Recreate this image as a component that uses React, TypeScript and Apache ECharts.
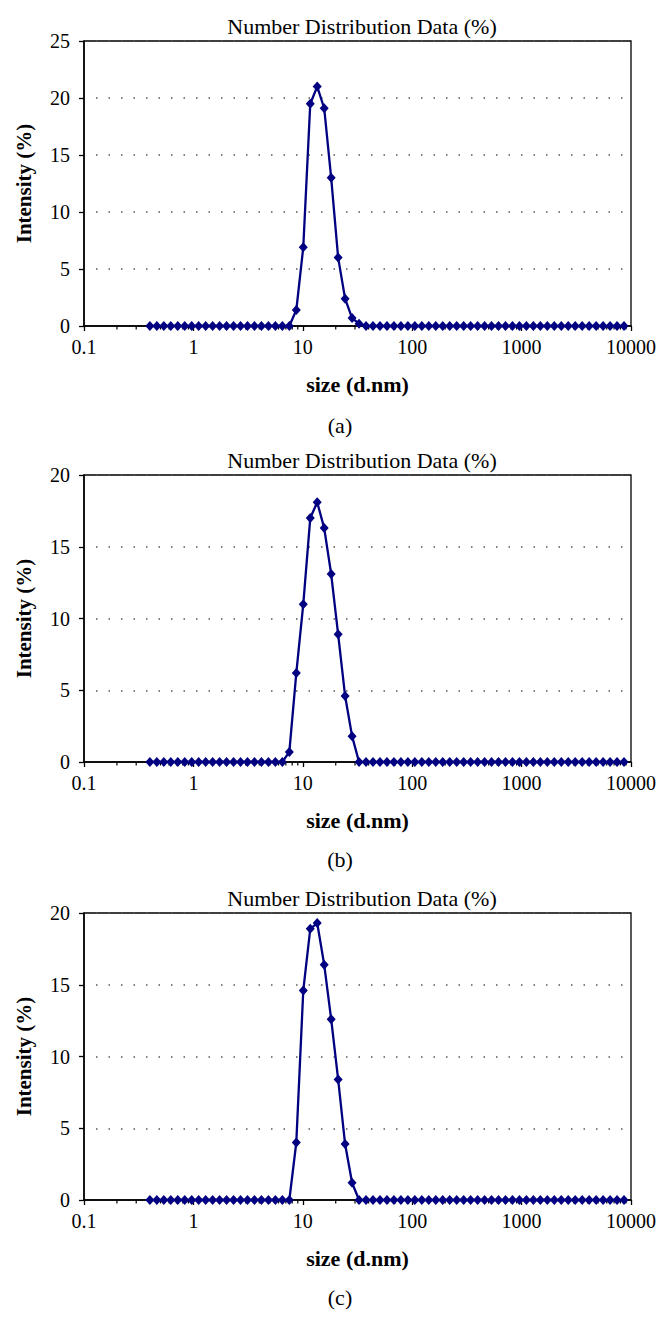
import React, { useEffect, useRef } from "react";
import * as echarts from "echarts";

// Zetasizer size classes (d.nm)
const sizes: number[] = [
  0.4, 0.4632, 0.5365, 0.6213, 0.7195, 0.8332, 0.9649, 1.117, 1.294, 1.499,
  1.736, 2.01, 2.328, 2.696, 3.122, 3.615, 4.187, 4.849, 5.615, 6.503,
  7.531, 8.721, 10.1, 11.7, 13.54, 15.69, 18.17, 21.04, 24.36, 28.21,
  32.67, 37.84, 43.82, 50.75, 58.77, 68.06, 78.82, 91.28, 105.7, 122.4,
  141.8, 164.2, 190.1, 220.2, 255.0, 295.3, 342.0, 396.1, 458.7, 531.2,
  615.1, 712.4, 825.0, 955.4, 1106, 1281, 1484, 1718, 1990, 2305,
  2669, 3091, 3580, 4145, 4801, 5560, 6439, 7456, 8635,
];

const intensityA: number[] = [
  0, 0, 0, 0, 0, 0, 0, 0, 0, 0,
  0, 0, 0, 0, 0, 0, 0, 0, 0, 0,
  0, 1.4, 6.9, 19.5, 21.0, 19.1, 13.0, 6.0, 2.4, 0.7,
  0.2, 0, 0, 0, 0, 0, 0, 0, 0, 0,
  0, 0, 0, 0, 0, 0, 0, 0, 0, 0,
  0, 0, 0, 0, 0, 0, 0, 0, 0, 0,
  0, 0, 0, 0, 0, 0, 0, 0, 0,
];

const intensityB: number[] = [
  0, 0, 0, 0, 0, 0, 0, 0, 0, 0,
  0, 0, 0, 0, 0, 0, 0, 0, 0, 0,
  0.7, 6.2, 11.0, 17.0, 18.1, 16.3, 13.1, 8.9, 4.6, 1.8,
  0, 0, 0, 0, 0, 0, 0, 0, 0, 0,
  0, 0, 0, 0, 0, 0, 0, 0, 0, 0,
  0, 0, 0, 0, 0, 0, 0, 0, 0, 0,
  0, 0, 0, 0, 0, 0, 0, 0, 0,
];

const intensityC: number[] = [
  0, 0, 0, 0, 0, 0, 0, 0, 0, 0,
  0, 0, 0, 0, 0, 0, 0, 0, 0, 0,
  0, 4.0, 14.6, 18.9, 19.3, 16.4, 12.6, 8.4, 3.9, 1.2,
  0, 0, 0, 0, 0, 0, 0, 0, 0, 0,
  0, 0, 0, 0, 0, 0, 0, 0, 0, 0,
  0, 0, 0, 0, 0, 0, 0, 0, 0, 0,
  0, 0, 0, 0, 0, 0, 0, 0, 0,
];

const yMaxes: number[] = [25, 20, 20];
const captions: string[] = ["(a)", "(b)", "(c)"];
const chartTitle = "Number Distribution Data (%)";
const xName = "size (d.nm)";
const yName = "Intensity (%)";
const xMin = 0.1;
const xMax = 10000;
const decades: number[] = [0.1, 1, 10, 100, 1000];
const minorMultipliers: number[] = [2, 3, 4, 5, 6, 7, 8, 9];

const FONT = "Liberation Serif";
const NAVY = "#000080";

export default function App() {
  const ref = useRef<HTMLDivElement>(null);

  useEffect(() => {
    if (!ref.current) return;
    const chart = echarts.init(ref.current, undefined, { renderer: "svg" });

    const panels = [
      { data: intensityA, top: 41, height: 285 },
      { data: intensityB, top: 475, height: 287 },
      { data: intensityC, top: 913, height: 287 },
    ];
    const offsets = [0, 434, 872];
    const minorTicks: number[][] = [];
    decades.forEach((d) => minorMultipliers.forEach((m) => minorTicks.push([+(d * m).toPrecision(6), 0])));

    const grids: any[] = [];
    const xAxes: any[] = [];
    const yAxes: any[] = [];
    const series: any[] = [];
    const titles: any[] = [];

    panels.forEach((p, i) => {
      grids.push({
        left: 84,
        width: 547,
        top: p.top,
        height: p.height,
        show: true,
        borderColor: "#000",
        borderWidth: 1.3,
        backgroundColor: "transparent",
      });
      xAxes.push({
        gridIndex: i,
        type: "log",
        logBase: 10,
        min: xMin,
        max: xMax,
        name: xName,
        nameLocation: "middle",
        nameGap: 47,
        nameTextStyle: { fontFamily: FONT, fontWeight: "bold", fontSize: 22, color: "#000" },
        axisLine: { show: true, onZero: false, lineStyle: { color: "#000", width: 1.5 } },
        axisTick: { show: true, inside: false, length: 5, lineStyle: { color: "#000", width: 1.3 } },
        axisLabel: {
          fontFamily: FONT,
          fontSize: 20,
          color: "#000",
          margin: 11,
          formatter: (v: number) => String(+(+v).toPrecision(6)),
        },
        splitLine: { show: false },
        minorTick: { show: false },
      });
      yAxes.push({
        gridIndex: i,
        type: "value",
        min: 0,
        max: yMaxes[i],
        interval: 5,
        name: yName,
        nameLocation: "middle",
        nameRotate: 90,
        nameGap: 50,
        nameTextStyle: { fontFamily: FONT, fontWeight: "bold", fontSize: 21, color: "#000" },
        axisLine: { show: true, lineStyle: { color: "#000", width: 1.5 } },
        axisTick: { show: true, inside: false, length: 5, lineStyle: { color: "#000", width: 1.3 } },
        axisLabel: { fontFamily: FONT, fontSize: 20, color: "#000", margin: 14 },
        splitLine: {
          show: true,
          lineStyle: { color: "#555", width: 1.5, type: [1.5, 11], dashOffset: -12 },
        },
      });
      series.push({
        type: "custom",
        xAxisIndex: i,
        yAxisIndex: i,
        silent: true,
        clip: false,
        z: 1,
        data: minorTicks,
        renderItem: (params: any, api: any) => {
          const pt = api.coord([api.value(0), 0]);
          return {
            type: "line",
            shape: { x1: pt[0], y1: pt[1], x2: pt[0], y2: pt[1] + 3.5 },
            style: { stroke: "#000", lineWidth: 1.2 },
          };
        },
      });
      series.push({
        type: "line",
        xAxisIndex: i,
        yAxisIndex: i,
        z: 3,
        data: sizes.map((s, k) => [s, p.data[k]]),
        symbol: "diamond",
        symbolSize: [9, 10],
        showSymbol: true,
        clip: false,
        lineStyle: { color: NAVY, width: 2.3 },
        itemStyle: { color: NAVY },
      });
      titles.push({
        text: chartTitle,
        left: 357,
        top: 10 + offsets[i],
        textAlign: "center",
        textStyle: { fontFamily: FONT, fontWeight: "normal", fontSize: 22, color: "#000" },
      });
      titles.push({
        text: captions[i],
        left: 335,
        top: 409 + offsets[i],
        textAlign: "center",
        textStyle: { fontFamily: FONT, fontWeight: "normal", fontSize: 22, color: "#000" },
      });
    });

    chart.setOption({
      animation: false,
      backgroundColor: "#fff",
      title: titles,
      grid: grids,
      xAxis: xAxes,
      yAxis: yAxes,
      series,
    });

    return () => chart.dispose();
  }, []);

  return (
    <div
      ref={ref}
      style={{ position: "absolute", left: 0, top: 0, width: 670, height: 1340 }}
    />
  );
}
